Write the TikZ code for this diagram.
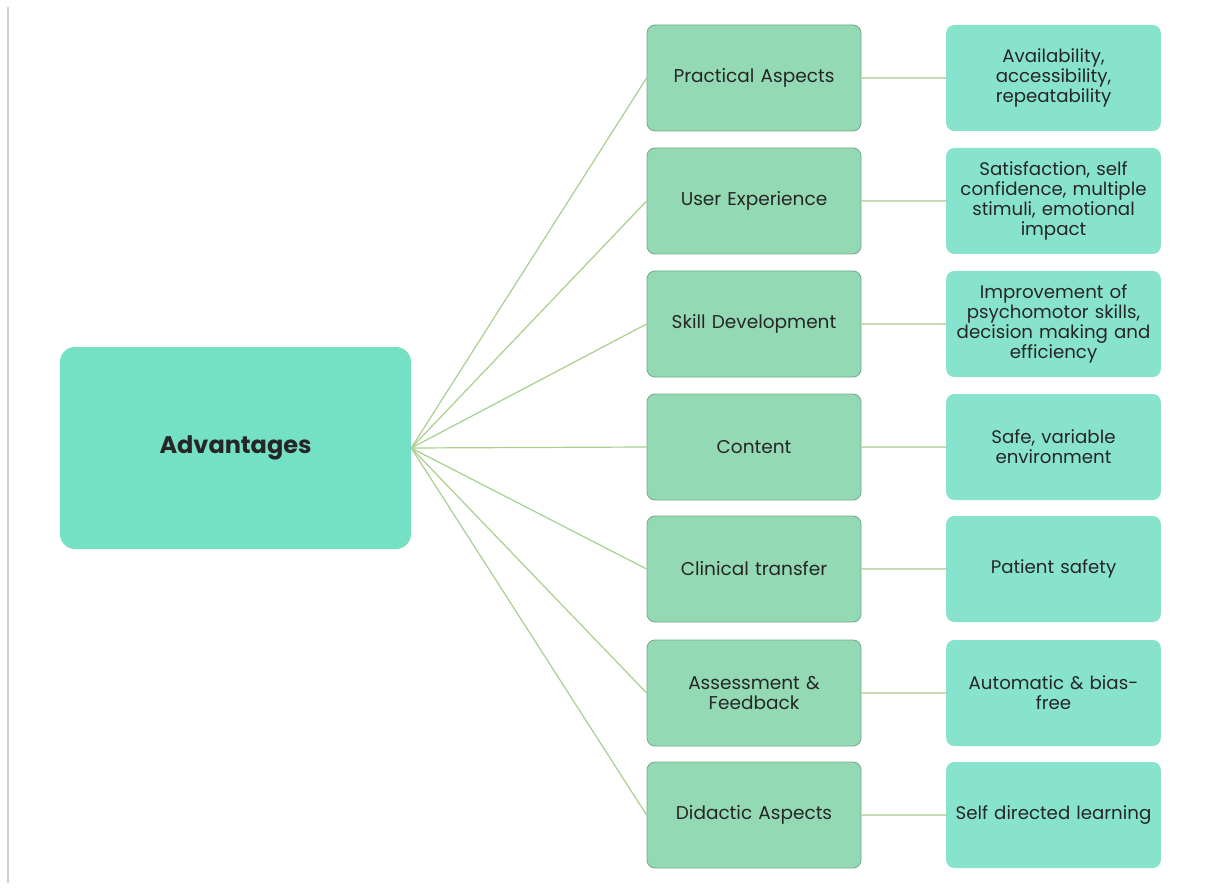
\documentclass[tikz,border=0pt]{standalone}
\usepackage{fontspec}
\setmainfont{Poppins}
\usetikzlibrary{positioning}
\definecolor{rootfill}{HTML}{74E0C4}
\definecolor{midfill}{HTML}{93D9B4}
\definecolor{midline}{HTML}{72A98B}
\definecolor{leaffill}{HTML}{88E3CC}
\definecolor{spoke}{HTML}{A8CF8E}
\definecolor{twig}{HTML}{C6DBB2}
\definecolor{ink}{HTML}{262626}

\begin{document}
\begin{tikzpicture}[x=1pt,y=-1pt,
    rootbox/.style={fill=rootfill,rounded corners=15pt,minimum width=351pt,minimum height=202pt,
        font=\fontsize{24}{28}\selectfont\bfseries,text=ink},
    midbox/.style={fill=midfill,draw=midline,line width=0.8pt,rounded corners=8pt,minimum width=214pt,
        minimum height=106pt,align=center,text width=206pt,font=\fontsize{18.5}{20.5}\selectfont,text=ink},
    leafbox/.style={fill=leaffill,rounded corners=8pt,minimum width=213pt,minimum height=106pt,
        align=center,text width=208pt,font=\fontsize{18.2}{20}\selectfont,text=ink},
    spokeline/.style={draw=spoke,line width=1.2pt},
    twigline/.style={draw=twig,line width=1.2pt}]
    \useasboundingbox (0,0) rectangle (1212,890);
    \draw[black!18,line width=1.5pt] (8,7) -- (8,883);

    \node[rootbox] (adv) at (235.5,448) {Advantages};

    \node[midbox] (prac) at (754,78)  {Practical Aspects};
    \node[midbox] (user) at (754,201) {User Experience};
    \node[midbox] (skill) at (754,324) {Skill Development};
    \node[midbox] (cont) at (754,447) {Content};
    \node[midbox] (clin) at (754,569) {Clinical transfer};
    \node[midbox] (asse) at (754,693) {Assessment \&\\Feedback};
    \node[midbox] (dida) at (754,815) {Didactic Aspects};

    \node[leafbox] (pracR) at (1053.5,78)  {Availability,\\accessibility,\\repeatability};
    \node[leafbox] (userR) at (1053.5,201) {Satisfaction, self\\confidence, multiple\\stimuli, emotional\\impact};
    \node[leafbox] (skillR) at (1053.5,324) {Improvement of\\psychomotor skills,\\decision making and\\efficiency};
    \node[leafbox] (contR) at (1053.5,447) {Safe, variable\\environment};
    \node[leafbox] (clinR) at (1053.5,569) {Patient safety};
    \node[leafbox] (asseR) at (1053.5,693) {Automatic \& bias-\\free};
    \node[leafbox] (didaR) at (1053.5,815) {Self directed learning};

    % spokes and twigs
    \foreach \m in {prac,user,skill,cont,clin,asse,dida}{
        \draw[spokeline] (adv.east) -- (\m.west);
        \draw[twigline] (\m.east) -- (\m R.west);
    }
\end{tikzpicture}
\end{document}
